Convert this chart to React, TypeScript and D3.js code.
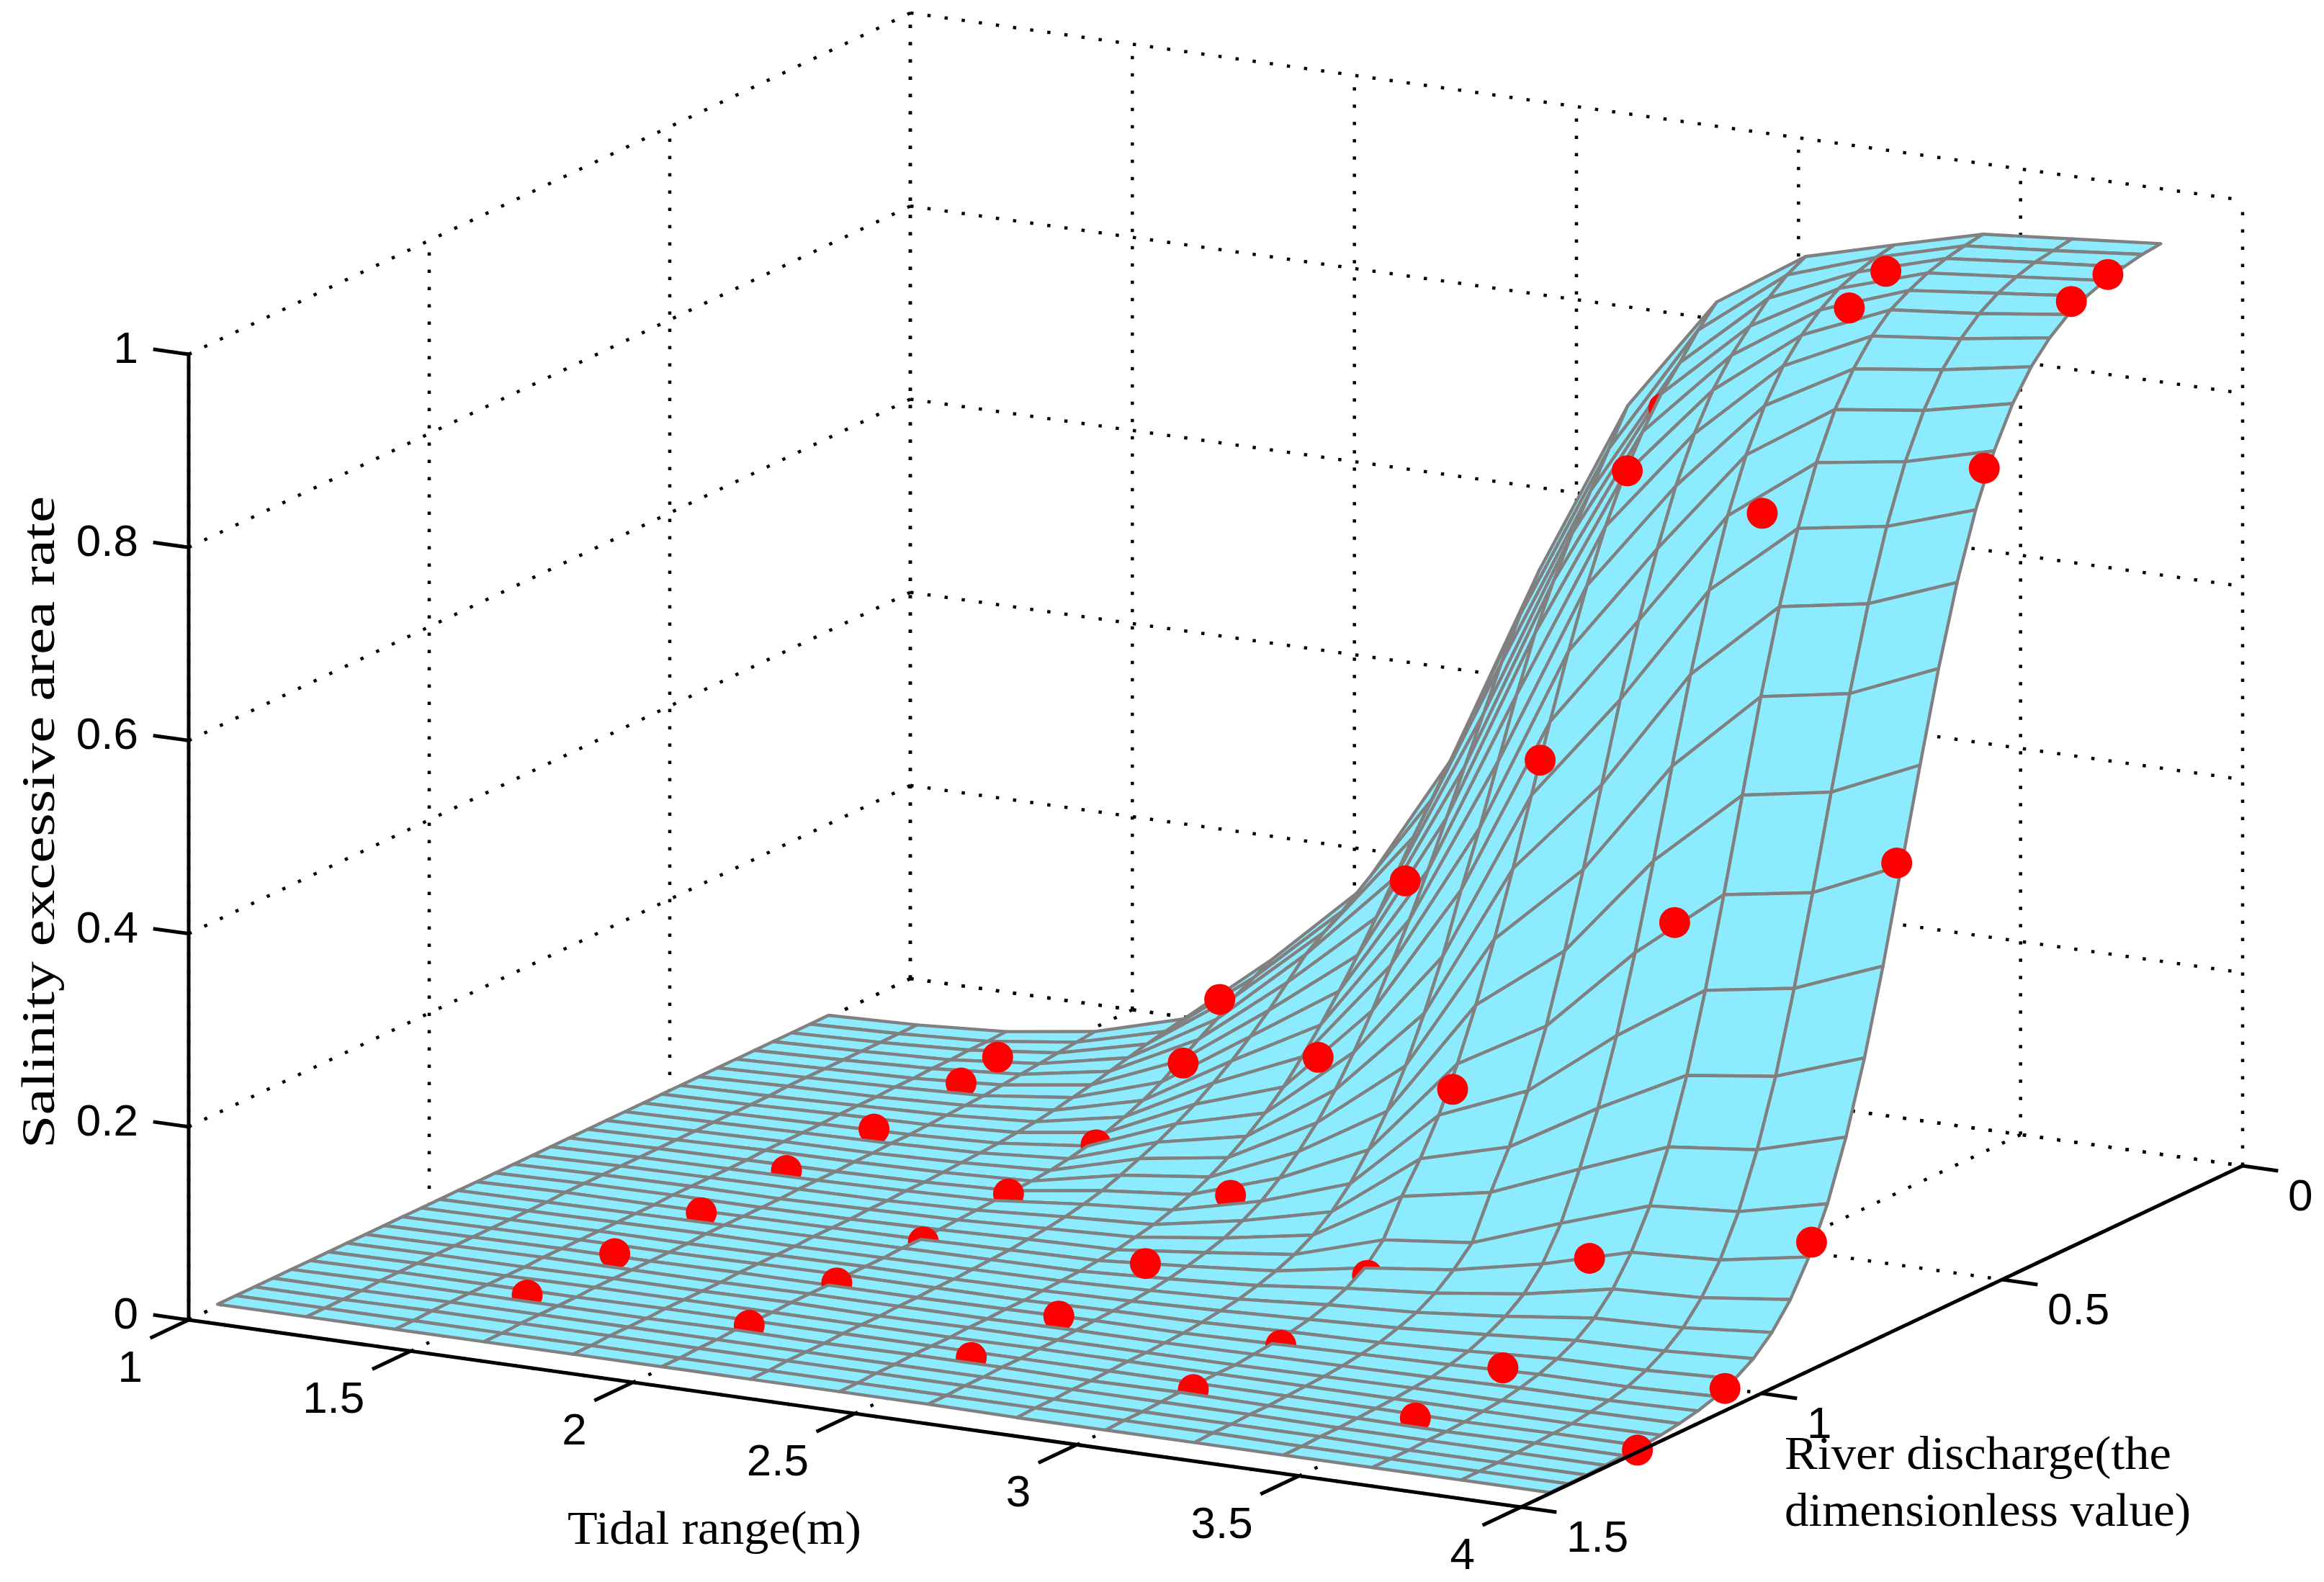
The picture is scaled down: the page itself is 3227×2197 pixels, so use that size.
import React from "react";
import * as d3 from "d3";

const tidalTicks = [1, 1.5, 2, 2.5, 3, 3.5, 4];
const riverTicks = [0, 0.5, 1, 1.5];
const rateTicks = [0, 0.2, 0.4, 0.6, 0.8, 1];

const meshTidal = [1, 1.2, 1.4, 1.6, 1.8, 2, 2.2, 2.4, 2.6, 2.8, 3, 3.2, 3.4, 3.6, 3.8, 4];
const meshRiver = [0.17, 0.2085, 0.247, 0.2855, 0.324, 0.3625, 0.401, 0.4395, 0.478, 0.5165, 0.555, 0.5935, 0.632, 0.6705, 0.709, 0.7475, 0.786, 0.8245, 0.863, 0.9015, 0.94, 0.9785, 1.017, 1.0555, 1.094, 1.1325, 1.171, 1.2095, 1.248, 1.2865, 1.325, 1.3635, 1.402, 1.44];

// one row per tidal range in meshTidal, one value per river discharge in meshRiver
const surfaceRate = [
  [.002,.002,.002,.002,.002,.002,.002,.002,.002,.002,.002,.002,.002,.002,.002,.002,.002,.002,.002,.002,.002,.002,.002,.002,.002,.002,.002,.002,.002,.002,.002,.002,.002,.002],
  [.005,.005,.005,.005,.005,.005,.005,.005,.004,.004,.004,.004,.004,.004,.004,.004,.004,.004,.004,.004,.003,.003,.003,.003,.003,.003,.003,.003,.003,.003,.002,.002,.002,.002],
  [.011,.010,.010,.009,.009,.008,.008,.007,.007,.007,.006,.006,.006,.006,.005,.005,.005,.005,.005,.004,.004,.004,.004,.004,.004,.004,.003,.003,.003,.003,.003,.003,.002,.002],
  [.024,.022,.020,.018,.016,.014,.012,.011,.010,.009,.008,.008,.007,.007,.006,.006,.006,.005,.005,.005,.005,.005,.004,.004,.004,.004,.004,.004,.003,.003,.003,.003,.002,.002],
  [.050,.046,.042,.037,.032,.027,.023,.019,.016,.014,.012,.011,.010,.009,.008,.008,.007,.007,.006,.006,.006,.005,.005,.005,.005,.004,.004,.004,.004,.003,.003,.003,.002,.002],
  [.125,.115,.105,.090,.078,.065,.052,.042,.034,.027,.022,.018,.015,.013,.012,.011,.010,.009,.008,.007,.007,.006,.006,.006,.005,.005,.005,.004,.004,.004,.003,.003,.002,.002],
  [.210,.197,.184,.170,.150,.130,.112,.096,.082,.069,.058,.048,.040,.032,.025,.020,.016,.013,.011,.009,.008,.007,.006,.006,.005,.005,.004,.004,.004,.003,.003,.003,.002,.002],
  [.356,.325,.295,.262,.230,.200,.172,.146,.122,.100,.082,.067,.054,.043,.034,.027,.021,.017,.013,.011,.009,.008,.007,.006,.006,.005,.005,.004,.004,.004,.003,.003,.002,.002],
  [.566,.530,.490,.445,.400,.355,.310,.268,.230,.192,.158,.128,.103,.082,.064,.049,.038,.029,.023,.018,.014,.011,.009,.008,.007,.006,.005,.005,.004,.004,.003,.003,.002,.002],
  [.750,.715,.680,.645,.605,.560,.505,.445,.385,.330,.270,.220,.175,.137,.106,.080,.060,.045,.034,.026,.020,.015,.012,.009,.007,.006,.005,.005,.004,.003,.003,.002,.002,.001],
  [.870,.850,.825,.802,.772,.736,.692,.640,.581,.517,.450,.383,.319,.260,.208,.164,.128,.098,.062,.042,.030,.022,.016,.012,.009,.007,.005,.005,.004,.004,.003,.002,.002,.001],
  [.930,.920,.905,.885,.864,.837,.801,.756,.700,.635,.562,.483,.404,.329,.260,.202,.153,.115,.072,.053,.038,.027,.020,.014,.011,.008,.006,.005,.004,.003,.003,.002,.002,.001],
  [.955,.951,.945,.937,.924,.907,.884,.852,.810,.756,.688,.610,.524,.435,.349,.272,.206,.152,.105,.072,.050,.036,.026,.018,.013,.009,.007,.005,.004,.003,.002,.002,.001,.001],
  [.979,.976,.972,.966,.957,.946,.928,.903,.870,.824,.765,.693,.609,.516,.422,.332,.253,.188,.136,.097,.068,.047,.033,.023,.016,.011,.007,.005,.003,.002,.002,.001,.001,.001],
  [.987,.984,.981,.975,.967,.955,.938,.915,.882,.838,.780,.709,.625,.532,.437,.347,.265,.198,.143,.102,.072,.050,.035,.024,.016,.011,.008,.005,.004,.003,.002,.001,.001,.001],
  [.995,.993,.989,.984,.977,.967,.952,.931,.902,.862,.810,.744,.664,.573,.478,.383,.297,.224,.164,.118,.083,.058,.040,.028,.019,.013,.009,.006,.004,.003,.002,.001,.001,.001],
];

const sampleTidal = [1.5, 2, 2.5, 3, 3.5, 4];
const sampleRiver = [1.258, 1.076, 0.896, 0.719, 0.537, 0.356, 0.28];
const sampleRate = [
  [.001, .001, .001, .003, .003, .008, .017],
  [.002, .003, .003, .011, .019, .061, .109],
  [.001, .001, .013, .042, .142, .282, .310],
  [.000, .003, .033, .184, .482, .739, .786],
  [.003, .012, .083, .389, .770, .940, .960],
  [.002, .023, .132, .483, .849, .979, .989],
];
// how each sample meets the surface: 1 stands clear of it, 0 half sunk, -1 nearly buried
const sampleSide = [
  [0, 0, 0, 0, 0, 0, 1],
  [0, 0, 0, 0, 0, 1, 1],
  [0, 0, 1, 0, 1, 1, -1],
  [0, 0, 0, 1, 1, 1, -1],
  [0, 0, 0, 1, 1, 1, 1],
  [1, 1, 1, 1, 1, 1, 1],
];

const labels = {
  tidal: "Tidal range(m)",
  river1: "River discharge(the",
  river2: "dimensionless value)",
  rate: "Salinity excessive area rate",
};

const xDomain: [number, number] = [1, 4];
const yDomain: [number, number] = [0, 1.5];
const zDomain: [number, number] = [0, 1];
const sxFromTidal = d3.scaleLinear().domain(xDomain).range([0, 1850]);
const syFromTidal = d3.scaleLinear().domain(xDomain).range([0, 260]);
const sxFromRiver = d3.scaleLinear().domain(yDomain).range([1002, 0]);
const syFromRiver = d3.scaleLinear().domain(yDomain).range([-474, 0]);
const syFromRate = d3.scaleLinear().domain(zDomain).range([0, -1341]);
const ORIGIN = [262, 1833];

const project = (x: number, y: number, z: number): [number, number] => [
  ORIGIN[0] + sxFromTidal(x) + sxFromRiver(y),
  ORIGIN[1] + syFromTidal(x) + syFromRiver(y) + syFromRate(z),
];
const nearness = (x: number, y: number) => syFromTidal(x) + syFromRiver(y);
const line = d3.line();
const seg = (a: [number, number, number], b: [number, number, number]) =>
  line([project(...a), project(...b)]) as string;

const DOT = { stroke: "#000", strokeWidth: 4.5, strokeDasharray: "4.5 19.5", fill: "none" };
const SOLID = { stroke: "#000", strokeWidth: 5, fill: "none" };
const SANS = "'Liberation Sans', Arial, sans-serif";
const SERIF = "'Liberation Serif', 'Times New Roman', serif";

export default function App() {
  const [x0, x1] = xDomain;
  const [y0, y1] = yDomain;
  const grid: string[] = [];
  rateTicks.forEach((z) => {
    grid.push(seg([x0, y0, z], [x1, y0, z]));
    grid.push(seg([x0, y0, z], [x0, y1, z]));
  });
  tidalTicks.forEach((x) => {
    grid.push(seg([x, y0, 0], [x, y0, 1]));
    grid.push(seg([x, y0, 0], [x, y1, 0]));
  });
  riverTicks.forEach((y) => {
    grid.push(seg([x0, y, 0], [x0, y, 1]));
    grid.push(seg([x0, y, 0], [x1, y, 0]));
  });

  const items: { key: number; el: React.ReactNode }[] = [];
  for (let i = 0; i < meshTidal.length - 1; i++) {
    for (let j = 0; j < meshRiver.length - 1; j++) {
      const corners = [
        project(meshTidal[i], meshRiver[j], surfaceRate[i][j]),
        project(meshTidal[i + 1], meshRiver[j], surfaceRate[i + 1][j]),
        project(meshTidal[i + 1], meshRiver[j + 1], surfaceRate[i + 1][j + 1]),
        project(meshTidal[i], meshRiver[j + 1], surfaceRate[i][j + 1]),
      ] as [number, number][];
      items.push({
        key: nearness((meshTidal[i] + meshTidal[i + 1]) / 2, (meshRiver[j] + meshRiver[j + 1]) / 2),
        el: (
          <path
            key={`q${i}-${j}`}
            d={line(corners) + "Z"}
            fill="#8DEBFF"
            stroke="#808080"
            strokeWidth={4.4}
            strokeLinejoin="round"
          />
        ),
      });
    }
  }
  sampleTidal.forEach((x, i) =>
    sampleRiver.forEach((y, j) => {
      const [cx, cy] = project(x, y, sampleRate[i][j]);
      const side = sampleSide[i][j];
      items.push({
        key: side === 1 ? 1e6 : nearness(x, y) + (side === 0 ? 14 : 0),
        el: <circle key={`p${i}-${j}`} cx={cx} cy={cy} r={21.5} fill="#FF0000" />,
      });
    })
  );
  items.sort((a, b) => a.key - b.key);

  return (
    <svg
      width={3227}
      height={2197}
      viewBox="0 0 3227 2197"
      style={{ position: "absolute", left: 0, top: 0, display: "block", background: "#fff" }}
    >
      {grid.map((d, i) => (
        <path key={i} d={d} {...DOT} />
      ))}
      <g>{items.map((it) => it.el)}</g>

      <path d={seg([x0, y1, 0], [x0, y1, 1])} {...SOLID} />
      <path d={seg([x0, y1, 0], [x1, y1, 0])} {...SOLID} />
      <path d={seg([x1, y1, 0], [x1, y0, 0])} {...SOLID} />
      {rateTicks.map((z) => (
        <path key={z} d={seg([x0, y1, z], [x0 - 0.08, y1, z])} {...SOLID} />
      ))}
      {tidalTicks.map((x) => (
        <path key={x} d={seg([x, y1, 0], [x, y1 + 0.08, 0])} {...SOLID} />
      ))}
      {riverTicks.map((y) => (
        <path key={y} d={seg([x1, y, 0], [x1 + 0.08, y, 0])} {...SOLID} />
      ))}

      <g fontFamily={SANS} fontSize={62} fill="#000">
        {rateTicks.map((z) => {
          const [sx, sy] = project(x0, y1, z);
          return (
            <text key={z} x={sx - 70} y={sy + 12} textAnchor="end">
              {String(z)}
            </text>
          );
        })}
        {tidalTicks.map((x) => {
          const [sx, sy] = project(x, y1, 0);
          return (
            <text key={x} x={sx - 64} y={sy + 86} textAnchor="end">
              {String(x)}
            </text>
          );
        })}
        {riverTicks.map((y) => {
          const [sx, sy] = project(x1, y, 0);
          return (
            <text key={y} x={sx + 63} y={sy + 62} textAnchor="start">
              {String(y)}
            </text>
          );
        })}
      </g>

      <g fontFamily={SERIF} fontSize={66} fill="#000">
        <text x={788} y={2144} textLength={408} lengthAdjust="spacingAndGlyphs">
          {labels.tidal}
        </text>
        <text x={2478} y={2040} textLength={537} lengthAdjust="spacingAndGlyphs">
          {labels.river1}
        </text>
        <text x={2478} y={2119} textLength={564} lengthAdjust="spacingAndGlyphs">
          {labels.river2}
        </text>
        <text
          transform="translate(75,1595) rotate(-90)"
          x={0}
          y={0}
          textLength={906}
          lengthAdjust="spacingAndGlyphs"
        >
          {labels.rate}
        </text>
      </g>
    </svg>
  );
}
